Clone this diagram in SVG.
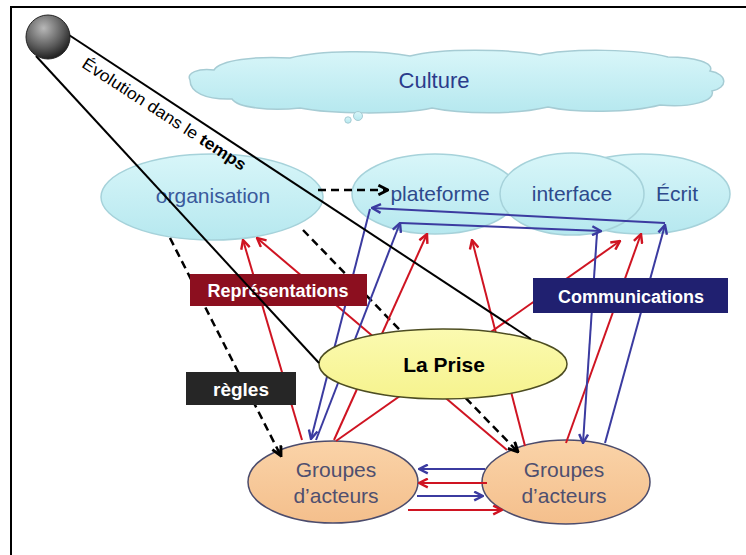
<svg xmlns="http://www.w3.org/2000/svg" width="746" height="555" viewBox="0 0 746 555">
<defs>
<linearGradient id="cyan" x1="0" y1="0" x2="0" y2="1">
<stop offset="0" stop-color="#d8f6f9"/><stop offset="1" stop-color="#b6e8ef"/>
</linearGradient>
<linearGradient id="peach" x1="0" y1="0" x2="0" y2="1">
<stop offset="0" stop-color="#fad3a8"/><stop offset="1" stop-color="#f4bf8c"/>
</linearGradient>
<linearGradient id="yellow" x1="0" y1="0" x2="0" y2="1">
<stop offset="0" stop-color="#fbfab0"/><stop offset="1" stop-color="#f6f38e"/>
</linearGradient>
<radialGradient id="sphere" cx="0.4" cy="0.3" r="0.75">
<stop offset="0" stop-color="#b8b8b8"/><stop offset="0.6" stop-color="#5a5a5a"/><stop offset="1" stop-color="#151515"/>
</radialGradient>
<marker id="ar" viewBox="0 0 10 10" refX="9" refY="5" markerWidth="11" markerHeight="11" markerUnits="userSpaceOnUse" orient="auto">
<path d="M1,1 L9,5 L1,9" fill="none" stroke="#cf1422" stroke-width="2.2"/>
</marker>
<marker id="ab" viewBox="0 0 10 10" refX="9" refY="5" markerWidth="11" markerHeight="11" markerUnits="userSpaceOnUse" orient="auto">
<path d="M1,1 L9,5 L1,9" fill="none" stroke="#3b3ba0" stroke-width="2.2"/>
</marker>
<marker id="ak" viewBox="0 0 10 10" refX="9" refY="5" markerWidth="12" markerHeight="12" markerUnits="userSpaceOnUse" orient="auto">
<path d="M1,1 L9,5 L1,9" fill="none" stroke="#000" stroke-width="2.4"/>
</marker>
<style>
.topic{fill:url(#cyan);stroke:#a6d2da;stroke-width:1.5}
.ttext{font-family:"Liberation Sans",Arial,sans-serif;font-size:21px;fill:#2e4a8c;text-anchor:middle}
.grp{fill:url(#peach);stroke:#4c4c6c;stroke-width:1.5}
.gtext{font-family:"Liberation Sans",Arial,sans-serif;font-size:21px;fill:#4f4f6f;text-anchor:middle}
.lbl{font-family:"Liberation Sans",Arial,sans-serif;font-weight:bold;fill:#ffffff;text-anchor:middle}
.red{stroke:#cf1422;stroke-width:2;fill:none;marker-end:url(#ar)}
.blue{stroke:#3b3ba0;stroke-width:2;fill:none;marker-end:url(#ab)}
.dash{stroke:#000;stroke-width:2.5;stroke-dasharray:8 5;fill:none;marker-end:url(#ak)}
.time{stroke:#000;stroke-width:2;fill:none}
</style>
</defs>

<rect x="11" y="7" width="760" height="600" fill="#ffffff" stroke="#000" stroke-width="2"/>

<g id="culture">
<path d="M190,80 C186,73 198,68 214,70 C220,60 255,56 290,58 C320,50 380,50 410,56 C440,48 510,49 540,55 C570,48 640,49 668,57 C695,57 715,63 710,71 C728,74 728,88 712,91 C716,101 690,108 660,105 C630,113 575,113 548,107 C515,115 460,114 432,108 C400,115 330,114 300,108 C270,111 238,108 232,99 C205,100 190,92 190,80 Z" fill="url(#cyan)" stroke="#a6ccd4" stroke-width="1.5"/>
<circle cx="358" cy="116" r="4.5" fill="url(#cyan)" stroke="#a6ccd4" stroke-width="1"/>
<circle cx="348" cy="120" r="3.2" fill="url(#cyan)" stroke="#a6ccd4" stroke-width="1"/>
<text x="434" y="88" class="ttext" style="font-size:22px;fill:#2b3b8b">Culture</text>
</g>

<g id="organisation">
<ellipse cx="212" cy="197" rx="111" ry="43" class="topic"/>
<text x="213" y="203" class="ttext" style="fill:#3a5a9c">organisation</text>
</g>
<g id="plateforme">
<ellipse cx="435" cy="194" rx="83" ry="40" class="topic"/>
<text x="440" y="201" class="ttext">plateforme</text>
</g>
<g id="ecrit">
<ellipse cx="642" cy="194" rx="88" ry="40" class="topic"/>
<text x="677" y="201" class="ttext">Écrit</text>
</g>
<g id="interface">
<ellipse cx="572" cy="194" rx="72" ry="41" class="topic"/>
<text x="572" y="201" class="ttext">interface</text>
</g>

<g id="groupes1">
<ellipse cx="333" cy="482" rx="85" ry="41" class="grp"/>
<text x="336" y="477" class="gtext">Groupes</text>
<text x="336" y="503" class="gtext">d’acteurs</text>
</g>
<g id="groupes2">
<ellipse cx="566" cy="482" rx="84" ry="42" class="grp"/>
<text x="564" y="477" class="gtext">Groupes</text>
<text x="564" y="503" class="gtext">d’acteurs</text>
</g>

<g id="connectors">
<line x1="318" y1="190" x2="388" y2="190" class="dash"/>
<line x1="170" y1="238" x2="281" y2="456" class="dash"/>
<line x1="303" y1="230" x2="518" y2="452" class="dash"/>
<line x1="302" y1="440" x2="243" y2="240" class="red"/>
<line x1="507" y1="450" x2="257" y2="238" class="red"/>
<line x1="334" y1="440" x2="427" y2="234" class="red"/>
<line x1="525" y1="446" x2="472" y2="240" class="red"/>
<line x1="336" y1="441" x2="620" y2="241" class="red"/>
<line x1="566" y1="443" x2="641" y2="234" class="red"/>
<line x1="605" y1="443" x2="665" y2="225" class="blue"/>
<line x1="665" y1="223" x2="372" y2="208" class="blue"/>
<line x1="370" y1="209" x2="311" y2="439" class="blue"/>
<line x1="316" y1="440" x2="400" y2="223" class="blue"/>
<line x1="401" y1="223" x2="601" y2="231" class="blue"/>
<line x1="597" y1="233" x2="583" y2="443" class="blue"/>
<line x1="485" y1="469" x2="419" y2="469" class="blue"/>
<line x1="487" y1="483" x2="419" y2="483" class="red"/>
<line x1="417" y1="496" x2="483" y2="496" class="blue"/>
<line x1="408" y1="510" x2="502" y2="510" class="red"/>
</g>

<g id="laprise">
<ellipse cx="443" cy="364" rx="124" ry="35" fill="url(#yellow)" stroke="#4d4d22" stroke-width="1.5"/>
<text x="444" y="372" style="font-family:'Liberation Sans',Arial,sans-serif;font-weight:bold;font-size:21px;fill:#000;text-anchor:middle">La Prise</text>
</g>

<g id="representations">
<rect x="190" y="274" width="177" height="32" fill="#8c0f1f"/>
<text x="278" y="297" class="lbl" style="font-size:18px">Représentations</text>
</g>
<g id="communications">
<rect x="533" y="278" width="195" height="35" fill="#202070"/>
<text x="631" y="303" class="lbl" style="font-size:18px">Communications</text>
</g>
<g id="regles">
<rect x="186" y="372" width="110" height="33" fill="#262626"/>
<text x="241" y="396" class="lbl" style="font-size:19px">règles</text>
</g>

<g id="temps">
<line x1="69" y1="35" x2="531" y2="339" class="time"/>
<line x1="36" y1="56" x2="319" y2="363" class="time"/>
<circle cx="48" cy="37" r="22" fill="url(#sphere)" stroke="#222" stroke-width="1"/>
<text transform="translate(69,35) rotate(33)" x="27" y="20" textLength="192" lengthAdjust="spacingAndGlyphs" style="font-family:'Liberation Sans',Arial,sans-serif;font-size:16.5px;fill:#000">Évolution dans le <tspan font-weight="bold">temps</tspan></text>
</g>
</svg>
